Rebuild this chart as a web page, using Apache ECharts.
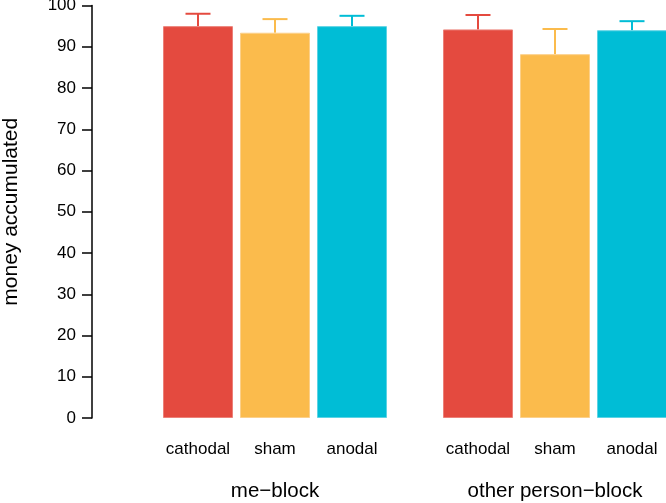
<!DOCTYPE html>
<html>
<head>
<meta charset="utf-8">
<script src="https://cdn.jsdelivr.net/npm/echarts@6/dist/echarts.min.js"></script>
<style>html,body{margin:0;padding:0;background:#fff}#c{width:666px;height:503px}</style>
</head>
<body>
<div id="c"></div>
<script>
const categories = ['cathodal', 'sham', 'anodal'];
const groups = ['me\u2212block', 'other person\u2212block'];
const meMeans = [95.0, 93.4, 95.0];
const meErr = [3.0, 3.3, 2.5];
const otherMeans = [94.2, 88.2, 94.0];
const otherErr = [3.5, 6.1, 2.2];
const yTicks = [0, 10, 20, 30, 40, 50, 60, 70, 80, 90, 100];
const colors = ['#E44A3F', '#FBBB4C', '#00BDD6'];
const borders = ['#EC8078', '#FCD08A', '#5CD3E4'];

const FONT = 'Liberation Sans';
const chart = echarts.init(document.getElementById('c'), null, {renderer: 'canvas'});

function barData(means) {
  return means.map((v, i) => ({
    value: v,
    itemStyle: {color: colors[i], borderColor: borders[i], borderWidth: 1}
  }));
}
function errData(means, errs) {
  return means.map((v, i) => [i, v, v + errs[i]]);
}
function renderErr(params, api) {
  const i = api.value(0);
  const base = api.coord([i, api.value(1)]);
  const top = api.coord([i, api.value(2)]);
  const cap = 12.5;
  const style = {stroke: colors[i], lineWidth: 2};
  return {
    type: 'group',
    children: [
      {type: 'line', shape: {x1: base[0], y1: base[1], x2: top[0], y2: top[1]}, style},
      {type: 'line', shape: {x1: top[0] - cap, y1: top[1], x2: top[0] + cap, y2: top[1]}, style}
    ]
  };
}

const xCommon = (name) => ({
  type: 'category',
  data: categories,
  name: name,
  nameLocation: 'middle',
  nameGap: 63,
  nameTextStyle: {fontFamily: FONT, fontSize: 20.5, color: '#000'},
  axisLine: {show: false},
  axisTick: {show: false},
  axisLabel: {fontFamily: FONT, fontSize: 17, color: '#000', margin: 23, interval: 0}
});

chart.setOption({
  animation: false,
  grid: [
    {left: 159.5, width: 231, top: 5.5, bottom: 85, containLabel: false, outerBoundsMode: 'none'},
    {left: 439.5, width: 231, top: 5.5, bottom: 85, containLabel: false, outerBoundsMode: 'none'}
  ],
  xAxis: [
    Object.assign({gridIndex: 0}, xCommon(groups[0])),
    Object.assign({gridIndex: 1}, xCommon(groups[1]))
  ],
  yAxis: [
    {
      gridIndex: 0, type: 'value', min: yTicks[0], max: yTicks[yTicks.length - 1], interval: 10,
      offset: 67.5,
      name: 'money accumulated', nameLocation: 'middle', nameGap: 70,
      nameTextStyle: {fontFamily: FONT, fontSize: 21, color: '#000'},
      axisLine: {show: true, lineStyle: {color: '#000', width: 1.5}},
      axisTick: {show: true, length: 10, lineStyle: {color: '#000', width: 1.5}},
      axisLabel: {fontFamily: FONT, fontSize: 17, color: '#000', margin: 16},
      splitLine: {show: false}
    },
    {
      gridIndex: 1, type: 'value', min: 0, max: 100, interval: 10, show: false,
      splitLine: {show: false}
    }
  ],
  series: [
    {type: 'bar', xAxisIndex: 0, yAxisIndex: 0, barWidth: 70, data: barData(meMeans)},
    {type: 'bar', xAxisIndex: 1, yAxisIndex: 1, barWidth: 70, data: barData(otherMeans)},
    {type: 'custom', xAxisIndex: 0, yAxisIndex: 0, renderItem: renderErr, data: errData(meMeans, meErr), z: 1},
    {type: 'custom', xAxisIndex: 1, yAxisIndex: 1, renderItem: renderErr, data: errData(otherMeans, otherErr), z: 1}
  ]
});
</script>
</body>
</html>
